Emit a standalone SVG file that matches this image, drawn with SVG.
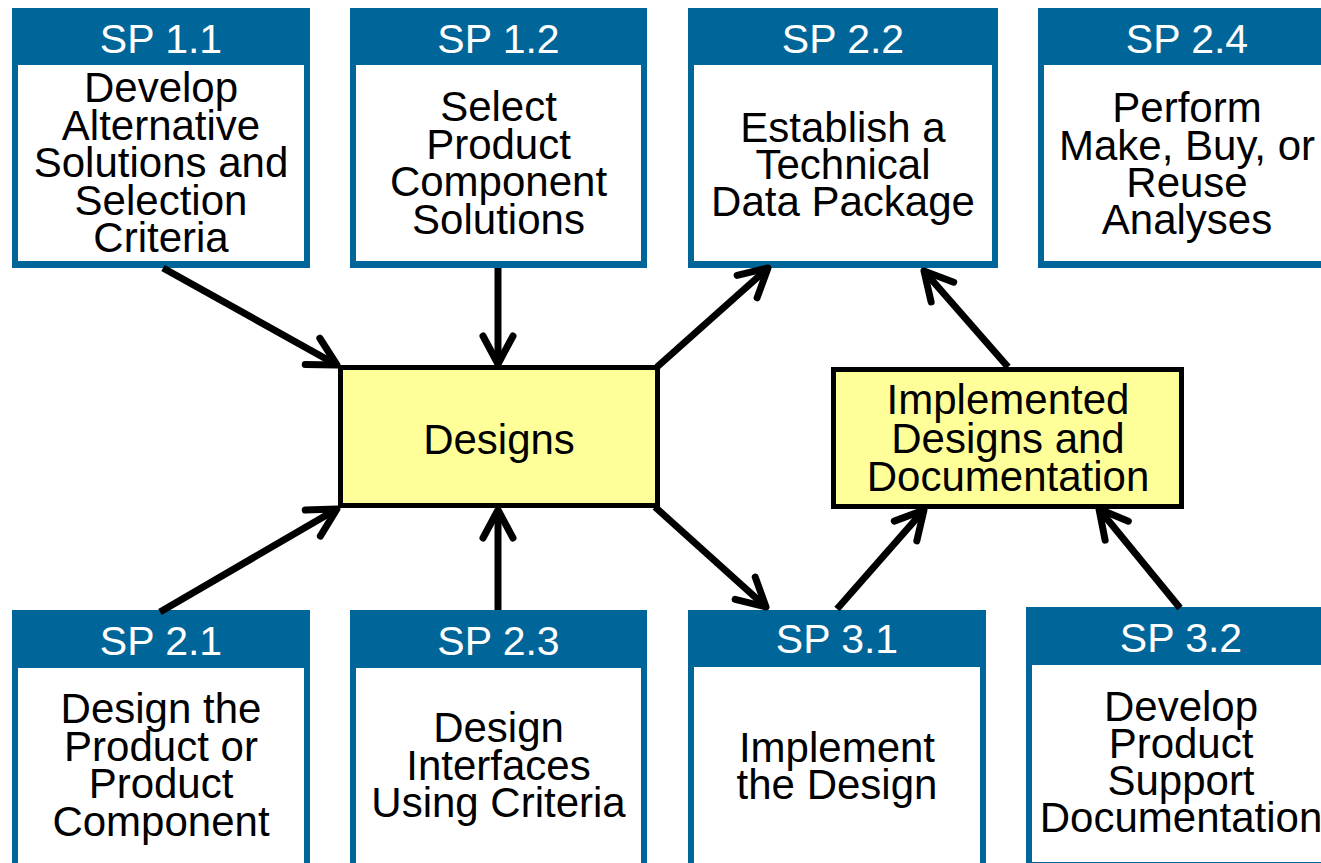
<svg xmlns="http://www.w3.org/2000/svg" width="1321" height="863" viewBox="0 0 1321 863">
<defs>
<style>
.ob{fill:#006699}
.wb{fill:#ffffff}
.ht{font-family:"Liberation Sans",Arial,sans-serif;font-size:41px;fill:#ffffff;text-anchor:middle}
.bt{font-family:"Liberation Sans",Arial,sans-serif;font-size:42px;fill:#000000;text-anchor:middle}
.yb{fill:#ffff99;stroke:#000000;stroke-width:5}
.c{stroke:#000000;stroke-width:7;fill:none;marker-end:url(#ah)}
</style>
<marker id="ah" markerUnits="userSpaceOnUse" orient="auto" refX="0" refY="0" markerWidth="60" markerHeight="60" overflow="visible">
<path d="M-28,-15 L0,0 L-28,15" fill="none" stroke="#000000" stroke-width="7" stroke-linecap="round" stroke-linejoin="round"/>
</marker>
</defs>
<rect width="1321" height="863" fill="#ffffff"/>

<g id="sp11">
<rect class="ob" x="12" y="8" width="298" height="260"/>
<rect class="wb" x="18" y="65" width="286" height="196"/>
<text class="ht" x="161" y="53">SP 1.1</text>
<text class="bt"><tspan x="161" y="102">Develop</tspan><tspan x="161" y="139.5">Alternative</tspan><tspan x="161" y="177">Solutions and</tspan><tspan x="161" y="214.5">Selection</tspan><tspan x="161" y="252">Criteria</tspan></text>
</g>
<g id="sp12">
<rect class="ob" x="350" y="8" width="297" height="260"/>
<rect class="wb" x="356" y="65" width="285" height="196"/>
<text class="ht" x="498.5" y="53">SP 1.2</text>
<text class="bt"><tspan x="498.5" y="121">Select</tspan><tspan x="498.5" y="158.5">Product</tspan><tspan x="498.5" y="196">Component</tspan><tspan x="498.5" y="233.5">Solutions</tspan></text>
</g>
<g id="sp22">
<rect class="ob" x="688" y="8" width="310" height="260"/>
<rect class="wb" x="694" y="65" width="298" height="196"/>
<text class="ht" x="843" y="53">SP 2.2</text>
<text class="bt"><tspan x="843" y="142">Establish a</tspan><tspan x="843" y="179">Technical</tspan><tspan x="843" y="216">Data Package</tspan></text>
</g>
<g id="sp24">
<rect class="ob" x="1038" y="8" width="298" height="260"/>
<rect class="wb" x="1044" y="65" width="286" height="196"/>
<text class="ht" x="1187" y="53">SP 2.4</text>
<text class="bt"><tspan x="1187" y="122">Perform</tspan><tspan x="1187" y="159.5">Make, Buy, or</tspan><tspan x="1187" y="197">Reuse</tspan><tspan x="1187" y="234">Analyses</tspan></text>
</g>
<g id="sp21">
<rect class="ob" x="12" y="610" width="298" height="270"/>
<rect class="wb" x="18" y="668" width="286" height="205"/>
<text class="ht" x="161" y="655">SP 2.1</text>
<text class="bt"><tspan x="161" y="723">Design the</tspan><tspan x="161" y="760.5">Product or</tspan><tspan x="161" y="798">Product</tspan><tspan x="161" y="835.5">Component</tspan></text>
</g>
<g id="sp23">
<rect class="ob" x="350" y="610" width="297" height="270"/>
<rect class="wb" x="356" y="668" width="285" height="205"/>
<text class="ht" x="498.5" y="655">SP 2.3</text>
<text class="bt"><tspan x="498.5" y="742">Design</tspan><tspan x="498.5" y="779.5">Interfaces</tspan><tspan x="498.5" y="817">Using Criteria</tspan></text>
</g>
<g id="sp31">
<rect class="ob" x="688" y="610" width="298" height="270"/>
<rect class="wb" x="694" y="667" width="286" height="206"/>
<text class="ht" x="837" y="653">SP 3.1</text>
<text class="bt"><tspan x="837" y="761.5">Implement</tspan><tspan x="837" y="798.5">the Design</tspan></text>
</g>
<g id="sp32">
<rect class="ob" x="1026" y="607" width="310" height="261"/>
<rect class="wb" x="1032" y="665" width="298" height="197"/>
<text class="ht" x="1181" y="652">SP 3.2</text>
<text class="bt"><tspan x="1181" y="720.5">Develop</tspan><tspan x="1181" y="758">Product</tspan><tspan x="1181" y="795">Support</tspan><tspan x="1181" y="832">Documentation</tspan></text>
</g>
<g id="designs">
<rect class="yb" x="340.5" y="367.5" width="317" height="138"/>
<text class="bt" x="499" y="454">Designs</text>
</g>
<g id="implemented">
<rect class="yb" x="833.5" y="369.5" width="348" height="137"/>
<text class="bt"><tspan x="1008" y="414">Implemented</tspan><tspan x="1008" y="452.5">Designs and</tspan><tspan x="1008" y="491">Documentation</tspan></text>
</g>

<g id="connectors">
<line class="c" x1="163" y1="268" x2="337" y2="365"/>
<line class="c" x1="498" y1="268" x2="498" y2="364"/>
<line class="c" x1="160" y1="612" x2="337" y2="509"/>
<line class="c" x1="498" y1="610" x2="498" y2="510"/>
<line class="c" x1="657" y1="367" x2="768" y2="268"/>
<line class="c" x1="655" y1="507" x2="766" y2="607"/>
<line class="c" x1="837" y1="609" x2="924" y2="510"/>
<line class="c" x1="1008" y1="367" x2="924" y2="271"/>
<line class="c" x1="1180" y1="608" x2="1099" y2="509"/>
</g>
</svg>
